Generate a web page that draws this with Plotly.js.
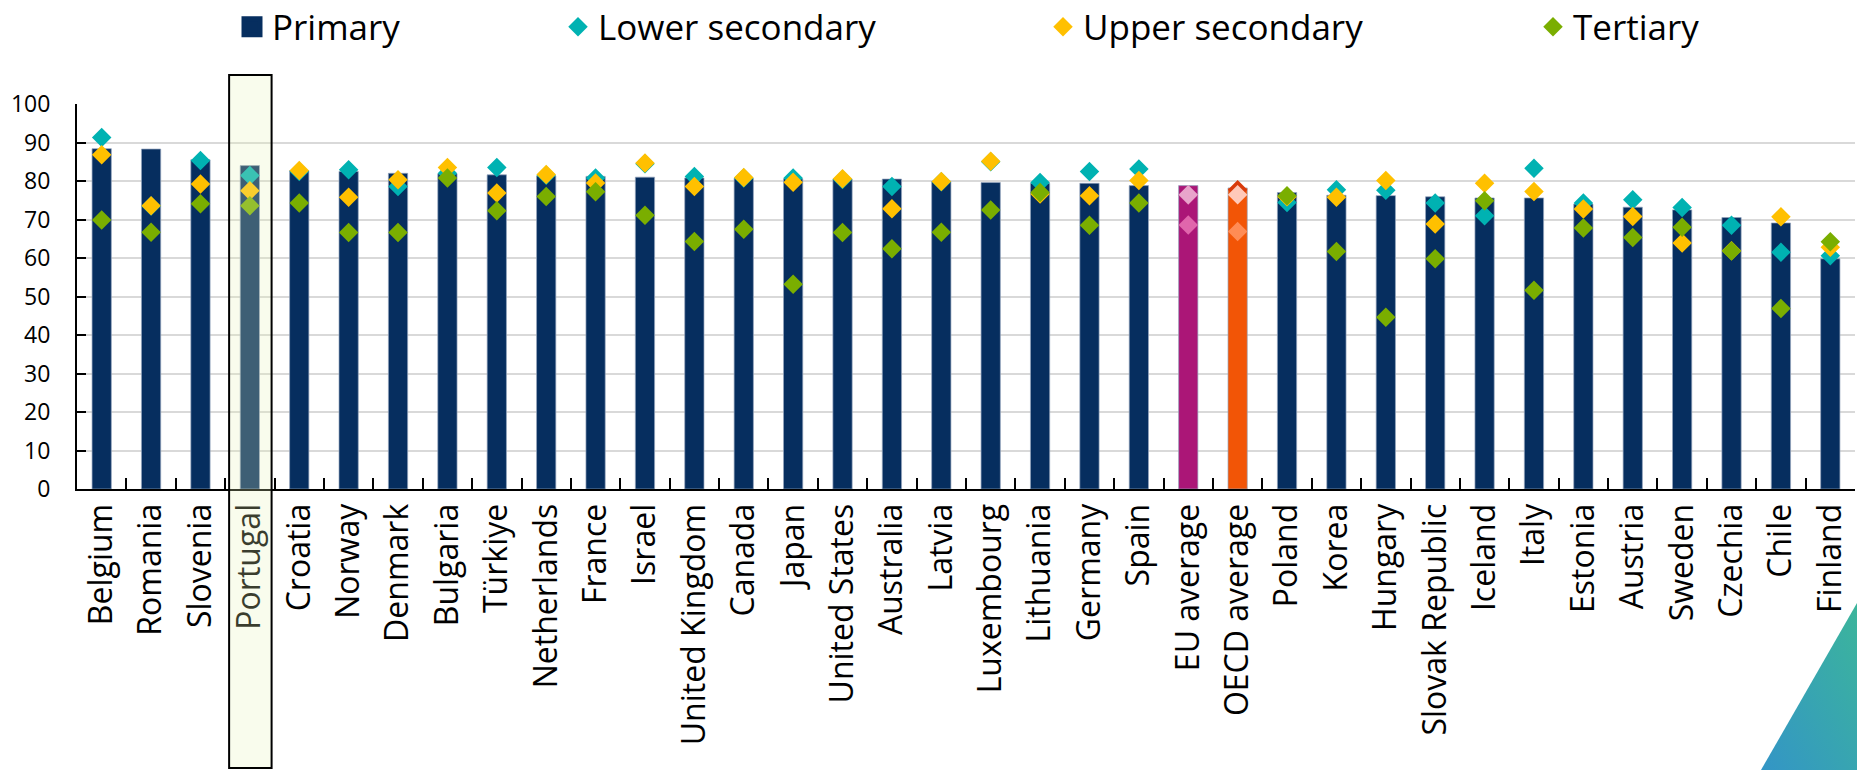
<!DOCTYPE html>
<html>
<head>
<meta charset="utf-8">
<script src="https://cdn.plot.ly/plotly-3.0.1.min.js"></script>
<style>
  html, body { margin: 0; padding: 0; background: #fff; }
  #chart { width: 1857px; height: 770px; }
</style>
</head>
<body>
<div id="chart"></div>
<script>
// ---------- DATA ----------
const categories = ['Belgium','Romania','Slovenia','Portugal','Croatia','Norway','Denmark','Bulgaria','Türkiye','Netherlands','France','Israel','United Kingdom','Canada','Japan','United States','Australia','Latvia','Luxembourg','Lithuania','Germany','Spain','EU average','OECD average','Poland','Korea','Hungary','Slovak Republic','Iceland','Italy','Estonia','Austria','Sweden','Czechia','Chile','Finland'];

const primary = [88.4, 88.3, 85.5, 84.0, 82.7, 82.5, 82.0, 81.9, 81.6, 81.3, 81.2, 81.0, 80.8, 80.7, 80.6, 80.5, 80.5, 79.9, 79.6, 79.4, 79.4, 78.8, 78.8, 78.2, 77.0, 76.3, 76.2, 75.9, 75.6, 75.6, 74.0, 73.2, 72.5, 70.5, 69.1, 59.8];

const lowerSecondary = [91.3, 73.5, 85.3, 81.4, 82.5, 82.9, 78.6, 82.0, 83.5, 81.5, 80.8, 84.5, 81.2, 80.8, 80.8, 80.4, 78.6, 79.8, 85.0, 79.6, 82.5, 83.1, 76.3, 77.7, 74.4, 77.7, 77.6, 74.3, 71.0, 83.3, 74.3, 75.1, 73.1, 68.5, 61.5, 60.6];

const upperSecondary = [86.8, 73.6, 79.2, 77.5, 82.7, 75.8, 80.3, 83.5, 76.9, 81.7, 79.5, 84.7, 78.6, 80.9, 79.7, 80.6, 72.8, 79.9, 85.1, 76.6, 76.2, 80.1, 76.4, 76.4, 75.9, 75.8, 80.1, 68.8, 79.4, 77.3, 72.7, 70.8, 63.9, 61.9, 70.7, 62.8];

const tertiary = [69.9, 66.7, 74.1, 73.6, 74.3, 66.6, 66.6, 80.8, 72.3, 76.0, 77.2, 71.1, 64.3, 67.5, 53.2, 66.6, 62.4, 66.7, 72.5, 77.0, 68.5, 74.3, 68.6, 66.9, 76.2, 61.7, 44.6, 59.8, 74.9, 51.6, 67.8, 65.3, 68.0, 61.8, 46.9, 64.2];

const seriesNames = ['Primary', 'Lower secondary', 'Upper secondary', 'Tertiary'];
const highlighted = 'Portugal';

// ---------- STYLE ----------
const FONT = '"Open Sans", "Noto Sans", sans-serif';
const navy = '#062E5F';
const teal = '#00B2B2';
const yellow = '#FFC000';
const green = '#7AAE00';
const special = {
  'EU average':   { bar: '#AB1677', lower: '#C23A8E', upper: '#E8A4CB', tert: '#E066AC' },
  'OECD average': { bar: '#F25506', lower: '#D93B0B', upper: '#FFC9B9', tert: '#FF8C55' }
};
const colorFor = (key, dflt) => categories.map(c => special[c] ? special[c][key] : dflt);

const MS = 15;

const traces = [
  {
    type: 'bar', x: categories, y: primary, name: seriesNames[0], showlegend: false,
    marker: { color: colorFor('bar', navy), line: { width: 1, color: 'rgba(150,165,190,0.7)' } },
    hoverinfo: 'x+y'
  },
  {
    type: 'scatter', mode: 'markers', x: categories, y: lowerSecondary, name: seriesNames[1], legend: 'legend2',
    marker: { symbol: 'diamond', size: MS, color: colorFor('lower', teal) }
  },
  {
    type: 'scatter', mode: 'markers', x: categories, y: upperSecondary, name: seriesNames[2], legend: 'legend3',
    marker: { symbol: 'diamond', size: MS, color: colorFor('upper', yellow) }
  },
  {
    type: 'scatter', mode: 'markers', x: categories, y: tertiary, name: seriesNames[3], legend: 'legend4',
    marker: { symbol: 'diamond', size: MS, color: colorFor('tert', green) }
  },
  // legend-only entry for the bar series (larger square symbol)
  {
    type: 'scatter', mode: 'markers', x: [null], y: [null], name: seriesNames[0], legend: 'legend',
    marker: { symbol: 'square', size: 16, color: navy, line: { width: 5, color: navy } },
    hoverinfo: 'skip'
  }
];

const L = 77, R = 2, T = 104, B = 281;
const plotW = 1857 - L - R, plotH = 770 - T - B;
const px2x = p => (p - L) / plotW;
const px2y = p => (770 - B - p) / plotH;

const legendBase = {
  orientation: 'h', xanchor: 'left', yanchor: 'middle', y: px2y(27),
  font: { family: FONT, size: 35, color: '#000' }, bgcolor: 'rgba(0,0,0,0)',
  itemwidth: 30, borderwidth: 0
};

const hiIdx = categories.indexOf(highlighted);

const triSvg = "data:image/svg+xml;utf8," + encodeURIComponent(
  '<svg xmlns="http://www.w3.org/2000/svg" width="96" height="167" viewBox="0 0 96 167">' +
  '<defs><linearGradient id="g" x1="1" y1="0" x2="0" y2="1">' +
  '<stop offset="0" stop-color="#3CB59B"/><stop offset="1" stop-color="#3395C6"/></linearGradient></defs>' +
  '<polygon points="0,167 96,0 96,167" fill="url(#g)"/></svg>');

const layout = {
  width: 1857, height: 770,
  margin: { l: L, r: R, t: T, b: B, pad: 0, autoexpand: false },
  paper_bgcolor: '#fff', plot_bgcolor: '#fff',
  font: { family: FONT, color: '#000' },
  bargap: 0.61,
  showlegend: true,
  legend:  Object.assign({}, legendBase, { x: px2x(232) }),
  legend2: Object.assign({}, legendBase, { x: px2x(558) }),
  legend3: Object.assign({}, legendBase, { x: px2x(1043) }),
  legend4: Object.assign({}, legendBase, { x: px2x(1533) }),
  xaxis: {
    type: 'category', automargin: false,
    range: [-0.5, categories.length - 0.5],
    showline: true, linecolor: '#000', linewidth: 2,
    ticks: 'inside', tickson: 'boundaries', ticklen: 11, tickwidth: 2, tickcolor: '#000',
    tickangle: -90, tickfont: { family: FONT, size: 32, color: '#000' },
    ticklabelstandoff: 0,
    showgrid: false, zeroline: false, fixedrange: true
  },
  yaxis: {
    range: [0, 100], dtick: 10, automargin: false,
    showline: true, linecolor: '#000', linewidth: 2,
    ticks: 'inside', ticklen: 9, tickwidth: 2, tickcolor: '#000',
    tickfont: { family: FONT, size: 23, color: '#000' },
    ticklabelstandoff: 20,
    showgrid: true, gridcolor: '#D9D9D9', gridwidth: 2,
    zeroline: false, fixedrange: true
  },
  shapes: [
    {
      type: 'rect', layer: 'above', xref: 'x', yref: 'paper',
      x0: hiIdx - 0.42, x1: hiIdx + 0.44, y0: px2y(768), y1: px2y(75),
      fillcolor: 'rgba(232,245,185,0.25)', line: { color: '#000', width: 2 }
    }
  ],
  images: [
    {
      source: triSvg, xref: 'paper', yref: 'paper',
      x: px2x(1761), y: px2y(603), sizex: px2x(1857) - px2x(1761), sizey: px2y(603) - px2y(770),
      xanchor: 'left', yanchor: 'top', sizing: 'stretch', layer: 'above'
    }
  ]
};

Plotly.newPlot('chart', traces, layout, { displayModeBar: false, staticPlot: true });
</script>
</body>
</html>
